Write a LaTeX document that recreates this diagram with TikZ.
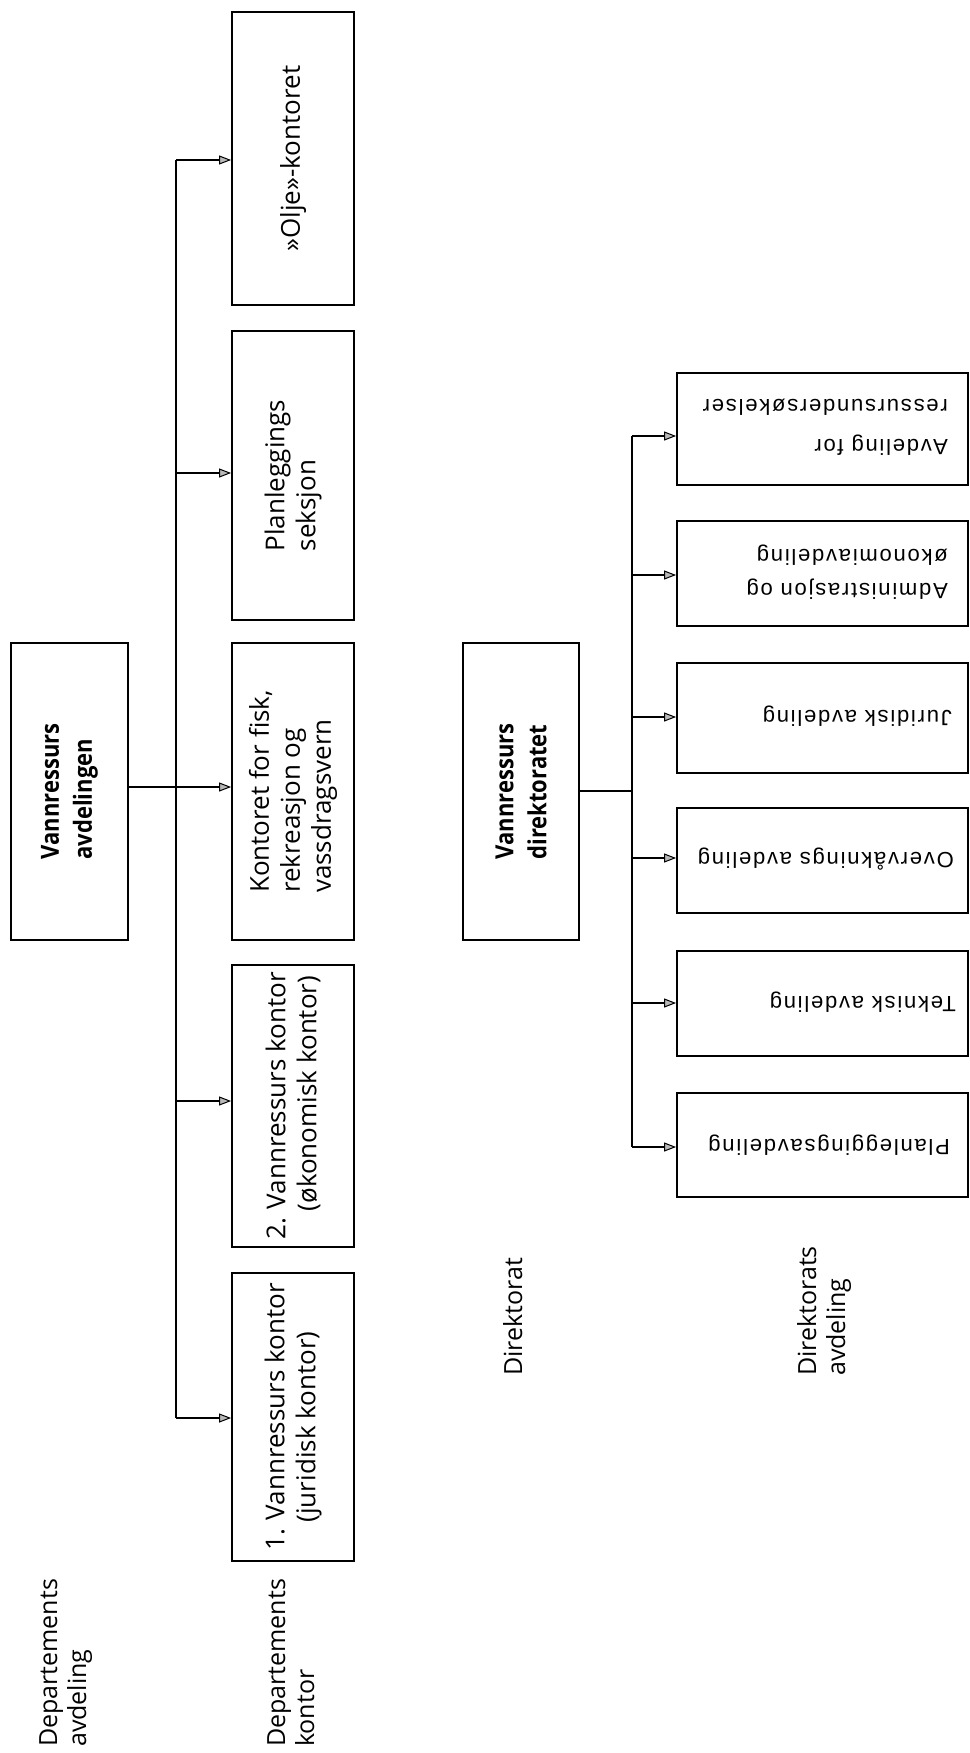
\documentclass[tikz,border=0pt]{standalone}
\usepackage{fontspec}
\setmainfont{Open Sans}
\newfontfamily\headfont[FakeStretch=0.88]{Open Sans}
\newfontfamily\lowfont[LetterSpace=8]{Liberation Sans}
\usetikzlibrary{arrows.meta}
\begin{document}
\begin{tikzpicture}[x=1pt,y=-1pt,
  ubox/.style={draw, line width=1.8pt, rotate=90, inner sep=0pt, align=left,
    font=\fontsize{26}{31}\selectfont, minimum height=122pt},
  hbox/.style={draw, line width=1.8pt, rotate=90, inner sep=0pt, align=left,
    font=\headfont\bfseries\fontsize{25}{33}\selectfont},
  lbox/.style={draw, line width=1.8pt, inner sep=0pt, minimum width=291pt},
  ltext/.style={rotate=180, anchor=west, inner sep=0pt, align=left,
    font=\lowfont\fontsize{22}{34}\selectfont},
  lab/.style={rotate=90, anchor=north west, inner sep=0pt, align=left,
    font=\fontsize{25}{29}\selectfont},
  conn/.style={line width=1.2pt},
  arr/.style={conn, -{Triangle[length=12pt,width=9pt,fill=gray!55,line width=1pt]}}
]
\useasboundingbox (0,0) rectangle (969,1753);
\fill[white] (0,0) rectangle (969,1753);

% labels
\node[lab] (dav) at (39,1747) {Departements\\avdeling};
\node[lab] (dko) at (267,1747) {Departements\\kontor};
\node[lab] (dir0) at (503,1376) {Direktorat};
\node[lab] (dav2) at (797,1376) {Direktorats\\avdeling};

% upper group
\node[hbox, minimum width=297pt, minimum height=117pt] (avd) at (69.5,791.5) {Vannressurs\\avdelingen};
\node[ubox, minimum width=293pt] (olje) at (293,158.5) {»Olje»-kontoret};
\node[ubox, minimum width=289pt] (plan) at (293,475.5) {Planleggings\\seksjon};
\node[ubox, minimum width=297pt] (kont) at (293,791.5) {Kontoret for fisk,\\rekreasjon og\\vassdragsvern};
\node[ubox, minimum width=282pt] (k2) at (293,1106) {2. Vannressurs kontor\\\phantom{2.~}(økonomisk kontor)};
\node[ubox, minimum width=288pt] (k1) at (293,1417) {1. Vannressurs kontor\\\phantom{1.~}(juridisk kontor)};

\coordinate (ua1) at (176,160);
\coordinate (ua2) at (176,473);
\coordinate (ua3) at (176,787);
\coordinate (ua4) at (176,1101);
\coordinate (ua5) at (176,1418);
\draw[conn] (ua1) -- (ua5);
\draw[arr] (ua1) -- (ua1 -| olje.north);
\draw[arr] (ua2) -- (ua2 -| plan.north);
\draw[arr] (avd.south |- ua3) -- (ua3 -| kont.north);
\draw[arr] (ua4) -- (ua4 -| k2.north);
\draw[arr] (ua5) -- (ua5 -| k1.north);

% lower group
\node[hbox, minimum width=297pt, minimum height=116pt] (dir) at (521,791.5) {Vannressurs\\direktoratet};
\node[lbox, minimum height=112pt] (l1) at (822.5,429) {};
\node[lbox, minimum height=105pt] (l2) at (822.5,573.5) {};
\node[lbox, minimum height=110pt] (l3) at (822.5,718) {};
\node[lbox, minimum height=105pt] (l4) at (822.5,860.5) {};
\node[lbox, minimum height=105pt] (l5) at (822.5,1003.5) {};
\node[lbox, minimum height=104pt] (l6) at (822.5,1145) {};

\node[ltext, font=\lowfont\fontsize{22}{40}\selectfont] (t1) at (948,427) {Avdeling for\\ressursundersøkelser};
\node[ltext] (t2) at (948,572) {Administrasjon og\\økonomiavdeling};
\node[ltext] (t3) at (952,716) {Juridisk avdeling};
\node[ltext] (t4) at (954,859) {Overvåknings avdeling};
\node[ltext] (t5) at (956,1002) {Teknisk avdeling};
\node[ltext] (t6) at (950,1145) {Planleggingsavdeling};

\coordinate (la1) at (632,436);
\coordinate (la2) at (632,575);
\coordinate (la3) at (632,717);
\coordinate (ld) at (632,791);
\coordinate (la4) at (632,858);
\coordinate (la5) at (632,1003);
\coordinate (la6) at (632,1147);
\draw[conn] (la1) -- (la6);
\draw[conn] (dir.south |- ld) -- (ld);
\draw[arr] (la1) -- (la1 -| l1.west);
\draw[arr] (la2) -- (la2 -| l2.west);
\draw[arr] (la3) -- (la3 -| l3.west);
\draw[arr] (la4) -- (la4 -| l4.west);
\draw[arr] (la5) -- (la5 -| l5.west);
\draw[arr] (la6) -- (la6 -| l6.west);
\end{tikzpicture}
\end{document}
